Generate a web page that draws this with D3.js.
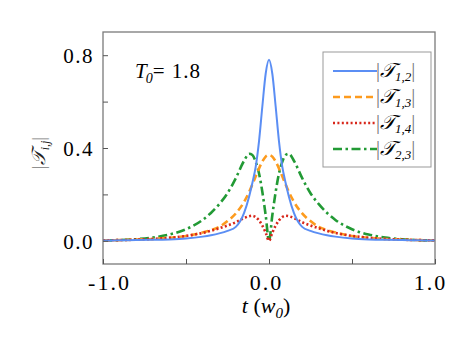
<!DOCTYPE html>
<html><head><meta charset="utf-8">
<script src="https://cdn.jsdelivr.net/npm/d3@7"></script>
<style>body{margin:0;background:#fff;} svg{display:block;} text{font-family:"Liberation Serif","Times New Roman","DejaVu Serif",serif !important;}</style>
</head><body>
<script>
const tValues = [-1.0,-0.9,-0.8,-0.7,-0.6,-0.5,-0.4,-0.35,-0.3,-0.25,-0.2,-0.15,-0.12,-0.1,-0.08,-0.06,-0.04,-0.02,0,
                 0.02,0.04,0.06,0.08,0.1,0.12,0.15,0.2,0.25,0.3,0.35,0.4,0.5,0.6,0.7,0.8,0.9,1.0];
const T12 = [0.001,0.002,0.003,0.004,0.006,0.01,0.018,0.024,0.032,0.043,0.06,0.12,0.19,0.25,0.32,0.43,0.58,0.72,0.78,
             0.72,0.58,0.43,0.32,0.25,0.19,0.12,0.06,0.043,0.032,0.024,0.018,0.01,0.006,0.004,0.003,0.002,0.001];
const T13 = [0.002,0.003,0.005,0.008,0.013,0.021,0.036,0.046,0.06,0.085,0.118,0.168,0.21,0.243,0.278,0.312,0.342,0.363,0.37,
             0.363,0.342,0.312,0.278,0.243,0.21,0.168,0.118,0.085,0.06,0.046,0.036,0.021,0.013,0.008,0.005,0.003,0.002];
const T14 = [0.002,0.003,0.005,0.008,0.013,0.021,0.034,0.043,0.054,0.066,0.08,0.098,0.106,0.108,0.102,0.088,0.065,0.035,0.0,
             0.035,0.065,0.088,0.102,0.108,0.106,0.098,0.08,0.066,0.054,0.043,0.034,0.021,0.013,0.008,0.005,0.003,0.002];
const T23 = [0.001,0.003,0.007,0.014,0.027,0.05,0.09,0.12,0.158,0.205,0.27,0.345,0.375,0.37,0.34,0.29,0.21,0.11,0.0,
             0.11,0.21,0.29,0.34,0.37,0.375,0.345,0.27,0.205,0.158,0.12,0.09,0.05,0.027,0.014,0.007,0.003,0.001];
const seriesSubs = ["1,2","1,3","1,4","2,3"];
const xTicks = [-1, -0.5, 0, 0.5, 1];
const xTickLabels = ["-1.0", "", "0.0", "", "1.0"];
const yTicks = [0, 0.2, 0.4, 0.6, 0.8];
const yTickLabels = ["0.0", "", "0.4", "", "0.8"];
const t0Label = "1.8";

(function () {
const W = 461, H = 352;
const mL = 103, mR = 435, mT = 32, mB = 264;
const svg = d3.select("body").append("svg").attr("width", W).attr("height", H);
const x = d3.scaleLinear().domain([-1, 1]).range([mL, mR]);
const y = d3.scaleLinear().domain([-0.1, 0.9]).range([mB, mT]);

const styles = [
  {data: T12, color: "#5b8ef4", dash: null, w: 2},
  {data: T13, color: "#fd9b1e", dash: "7,4", w: 2.6},
  {data: T14, color: "#d8261a", dash: "2,2.4", w: 2.6},
  {data: T23, color: "#229a35", dash: "9,3.5,2.5,3.5", w: 2.6}
];

const g = svg.append("g");
const order = [3, 1, 2, 0];
order.forEach(i => {
  const s = styles[i];
  const line = d3.line().x((d, k) => x(tValues[k])).y(d => y(d)).curve(d3.curveMonotoneX);
  g.append("path").datum(s.data).attr("d", line)
    .attr("fill", "none").attr("stroke", s.color).attr("stroke-width", s.w)
    .attr("stroke-dasharray", s.dash);
});

svg.append("rect").attr("x", mL).attr("y", mT).attr("width", mR - mL).attr("height", mB - mT)
  .attr("fill", "none").attr("stroke", "#7a7a7a").attr("stroke-width", 1.3);

const xAxis = d3.axisBottom(x).tickValues(xTicks).tickSize(-5).tickPadding(0).tickFormat((d, i) => xTickLabels[i]);
const gx = svg.append("g").attr("transform", `translate(0,${mB})`).call(xAxis);
gx.select(".domain").remove();
gx.selectAll(".tick line").attr("stroke", "#555").attr("stroke-width", 1);
const xOff = {"-1.0": 6, "0.0": -3, "1.0": -5};
gx.selectAll(".tick text").attr("fill", "#000")
  .attr("font-size", 22).attr("letter-spacing", 2).attr("y", 26).attr("dy", 0)
  .attr("dx", d => xOff[xTickLabels[xTicks.indexOf(d)]] || 0);

const yAxis = d3.axisLeft(y).tickValues(yTicks).tickSize(-5).tickPadding(9).tickFormat((d, i) => yTickLabels[i]);
const gy = svg.append("g").attr("transform", `translate(${mL},0)`).call(yAxis);
gy.select(".domain").remove();
gy.selectAll(".tick line").attr("stroke", "#555").attr("stroke-width", 1);
gy.selectAll(".tick text").attr("fill", "#000")
  .attr("font-size", 21).attr("letter-spacing", 1.5).attr("dy", "0.35em");

const xl = svg.append("text").attr("x", 266).attr("y", 313).attr("text-anchor", "middle")
  .attr("font-size", 22);
xl.append("tspan").attr("font-style", "italic").text("t");
xl.append("tspan").text(" (");
xl.append("tspan").attr("font-style", "italic").text("w");
xl.append("tspan").attr("font-style", "italic").attr("font-size", 15).attr("dy", 5).text("0");
xl.append("tspan").attr("dy", -5).text(")");

const yl = svg.append("text").attr("transform", "translate(45,153) rotate(-90)").attr("text-anchor", "middle")
  .attr("font-size", 19).attr("fill", "#222");
yl.append("tspan").attr("fill", "#777").text("|");
yl.append("tspan").attr("font-style", "italic").text("𝒯");
yl.append("tspan").attr("font-style", "italic").attr("font-size", 12).attr("dy", 4).text("i,j");
yl.append("tspan").attr("dy", -4).attr("fill", "#777").text("|");

const ta = svg.append("text").attr("x", 135).attr("y", 78).attr("font-size", 21);
ta.append("tspan").attr("font-style", "italic").text("T");
ta.append("tspan").attr("font-style", "italic").attr("font-size", 14).attr("dy", 5).attr("dx", -1).text("0");
ta.append("tspan").attr("dy", -5).attr("letter-spacing", 1).text("= " + t0Label);

svg.append("rect").attr("x", 323).attr("y", 52).attr("width", 108).attr("height", 115)
  .attr("fill", "#fff").attr("stroke", "#999").attr("stroke-width", 1);
styles.forEach((s, i) => {
  const yy = 71 + i * 26;
  svg.append("line").attr("x1", 333).attr("x2", 377).attr("y1", yy).attr("y2", yy)
    .attr("stroke", s.color).attr("stroke-width", s.w).attr("stroke-dasharray", s.dash);
  const t = svg.append("text").attr("x", 376).attr("y", yy + 6).attr("font-size", 20);
  t.append("tspan").attr("fill", "#777").text("|");
  t.append("tspan").attr("font-style", "italic").text("𝒯");
  t.append("tspan").attr("font-style", "italic").attr("font-size", 13).attr("dy", 4).text(seriesSubs[i]);
  t.append("tspan").attr("dy", -4).attr("fill", "#777").text("|");
});
})();
</script>
</body></html>
